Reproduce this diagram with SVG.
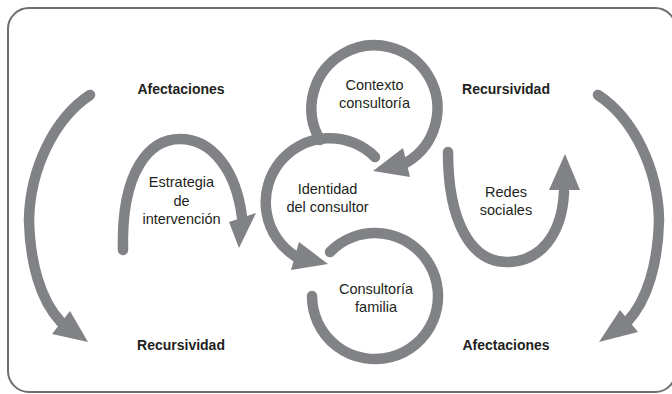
<svg xmlns="http://www.w3.org/2000/svg" width="672" height="394" viewBox="0 0 672 394">
<style>
.bg{fill:#ffffff}
.frame{fill:#ffffff;stroke:#6d6e71;stroke-width:2}
.loop{fill:none;stroke:#808285;stroke-width:10.5;stroke-linecap:round}
.head{fill:#808285}
text{font-family:"Liberation Sans",Arial,sans-serif;fill:#231f20;text-anchor:middle}
.t{font-size:14.5px}
.b{font-size:14px;font-weight:bold}
</style>
<rect class="bg" x="0" y="0" width="672" height="394"/>
<rect class="frame" x="8" y="8" width="668" height="384" rx="21"/>

<g id="connectors">
  <path class="loop" d="M90,95 C55,118 30,168 29,220 C30,262 40,300 61,322"/>
  <polygon class="head" points="88,342 52,334 70,311"/>
  <path class="loop" d="M598,95 C633,118 658,168 659,220 C658,262 648,300 627,322"/>
  <polygon class="head" points="599,342 638,332 620,310"/>
</g>

<g id="contexto">
  <path class="loop" d="M320,140 A63,63 0 1 1 406.5,162.5"/>
  <polygon class="head" points="373,171 410,177 403,148"/>
  <text class="t" x="374.5" y="89.5">Contexto</text>
  <text class="t" x="374.5" y="108">consultoría</text>
</g>

<g id="identidad">
  <path class="loop" d="M375,157 A64,64 0 1 0 295,256"/>
  <polygon class="head" points="328,264 291,270 299,242"/>
  <text class="t" x="327.5" y="194">Identidad</text>
  <text class="t" x="327.5" y="212">del consultor</text>
</g>

<g id="consultoria">
  <path class="loop" d="M330,252 A63,63 0 1 1 312,296"/>
  <text class="t" x="376" y="294">Consultoría</text>
  <text class="t" x="376" y="312">familia</text>
</g>

<g id="estrategia">
  <path class="loop" d="M123,250 C121,170 150,139 180,139 C212,139 236,170 242,217"/>
  <polygon class="head" points="239,248 229,222 256,213"/>
  <text class="t" x="181.5" y="187">Estrategia</text>
  <text class="t" x="181.5" y="205.5">de</text>
  <text class="t" x="181.5" y="224">intervención</text>
</g>

<g id="redes">
  <path class="loop" d="M448,152 C448,220 470,262 507,262 C540,262 562,235 564,192"/>
  <polygon class="head" points="565,154 549,190 580,190"/>
  <text class="t" x="506" y="197">Redes</text>
  <text class="t" x="506" y="215">sociales</text>
</g>

<g id="afectaciones-top">
  <text class="b" x="181" y="94">Afectaciones</text>
</g>
<g id="recursividad-top">
  <text class="b" x="506" y="94">Recursividad</text>
</g>
<g id="recursividad-bottom">
  <text class="b" x="181" y="350">Recursividad</text>
</g>
<g id="afectaciones-bottom">
  <text class="b" x="506" y="350">Afectaciones</text>
</g>
</svg>
